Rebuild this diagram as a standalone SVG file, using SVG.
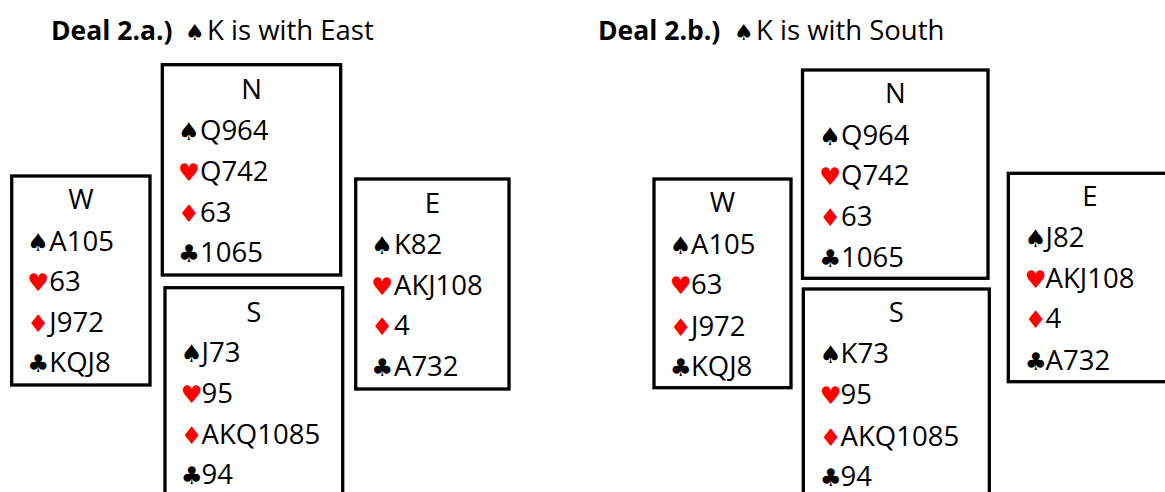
<svg xmlns="http://www.w3.org/2000/svg" width="1165" height="492" viewBox="0 0 1165 492">
<style>
.box{fill:none;stroke:#000;stroke-width:3.3}
text{font-family:"Open Sans","Liberation Sans",sans-serif;font-size:27.5px;fill:#000}
.lbl{text-anchor:middle}
.su{font-family:"DejaVu Sans",sans-serif;font-size:24.5px}
.r{fill:#ff0000}
.b{font-weight:bold;font-size:26.5px}
.ts{font-family:"DejaVu Sans",sans-serif;font-size:22px}
</style>
<g id="title-a"><text x="51" y="39.5"><tspan class="b">Deal 2.a.)</tspan><tspan class="ts" x="185">♠</tspan><tspan x="207">K is with East</tspan></text></g>
<g id="title-b"><text x="598" y="39.5"><tspan class="b">Deal 2.b.)</tspan><tspan class="ts" x="734">♠</tspan><tspan x="756">K is with South</tspan></text></g>

<g id="a-north">
<rect class="box" x="162.3" y="64.7" width="178.4" height="210.3"/>
<text class="lbl" x="251.5" y="99">N</text>
<text y="140"><tspan class="su" x="178">♠</tspan><tspan x="200">Q964</tspan></text>
<text y="180.7"><tspan class="su r" x="178">♥</tspan><tspan x="200">Q742</tspan></text>
<text y="221.5"><tspan class="su r" x="178">♦</tspan><tspan x="200">63</tspan></text>
<text y="262"><tspan class="su" x="178">♣</tspan><tspan x="200">1065</tspan></text>
</g>
<g id="a-west">
<rect class="box" x="11.7" y="176" width="138.3" height="209"/>
<text class="lbl" x="80.9" y="209.3">W</text>
<text y="250.7"><tspan class="su" x="27.3">♠</tspan><tspan x="49.3">A105</tspan></text>
<text y="291"><tspan class="su r" x="27.3">♥</tspan><tspan x="49.3">63</tspan></text>
<text y="331.7"><tspan class="su r" x="27.3">♦</tspan><tspan x="49.3">J972</tspan></text>
<text y="372.3"><tspan class="su" x="27.3">♣</tspan><tspan x="49.3">KQJ8</tspan></text>
</g>
<g id="a-east">
<rect class="box" x="355.7" y="179" width="153.3" height="210"/>
<text class="lbl" x="432.4" y="212.7">E</text>
<text y="254"><tspan class="su" x="371.3">♠</tspan><tspan x="394">K82</tspan></text>
<text y="295"><tspan class="su r" x="371.3">♥</tspan><tspan x="394">AKJ108</tspan></text>
<text y="335"><tspan class="su r" x="371.3">♦</tspan><tspan x="394">4</tspan></text>
<text y="376"><tspan class="su" x="371.3">♣</tspan><tspan x="394">A732</tspan></text>
</g>
<g id="a-south">
<rect class="box" x="165" y="287.7" width="177.7" height="220"/>
<text class="lbl" x="253.9" y="321.7">S</text>
<text y="362.3"><tspan class="su" x="180.7">♠</tspan><tspan x="201.6">J73</tspan></text>
<text y="403.3"><tspan class="su r" x="180.7">♥</tspan><tspan x="201.6">95</tspan></text>
<text y="444"><tspan class="su r" x="180.7">♦</tspan><tspan x="201.6">AKQ1085</tspan></text>
<text y="484"><tspan class="su" x="180.7">♣</tspan><tspan x="201.6">94</tspan></text>
</g>

<g id="b-north">
<rect class="box" x="802.5" y="70" width="185.5" height="208.3"/>
<text class="lbl" x="895.3" y="103.3">N</text>
<text y="145"><tspan class="su" x="819.3">♠</tspan><tspan x="841">Q964</tspan></text>
<text y="185"><tspan class="su r" x="819.3">♥</tspan><tspan x="841">Q742</tspan></text>
<text y="226"><tspan class="su r" x="819.3">♦</tspan><tspan x="841">63</tspan></text>
<text y="267.3"><tspan class="su" x="819.3">♣</tspan><tspan x="841">1065</tspan></text>
</g>
<g id="b-west">
<rect class="box" x="654" y="179" width="137" height="208.7"/>
<text class="lbl" x="722.5" y="212.3">W</text>
<text y="254"><tspan class="su" x="669.7">♠</tspan><tspan x="691">A105</tspan></text>
<text y="294.3"><tspan class="su r" x="669.7">♥</tspan><tspan x="691">63</tspan></text>
<text y="335.7"><tspan class="su r" x="669.7">♦</tspan><tspan x="691">J972</tspan></text>
<text y="375.7"><tspan class="su" x="669.7">♣</tspan><tspan x="691">KQJ8</tspan></text>
</g>
<g id="b-east">
<rect class="box" x="1008.3" y="173.3" width="163.4" height="208.4"/>
<text class="lbl" x="1090" y="206">E</text>
<text y="247.3"><tspan class="su" x="1024.7">♠</tspan><tspan x="1045.6">J82</tspan></text>
<text y="288.3"><tspan class="su r" x="1024.7">♥</tspan><tspan x="1045.6">AKJ108</tspan></text>
<text y="328.3"><tspan class="su r" x="1024.7">♦</tspan><tspan x="1045.6">4</tspan></text>
<text y="370"><tspan class="su" x="1024.7">♣</tspan><tspan x="1045.6">A732</tspan></text>
</g>
<g id="b-south">
<rect class="box" x="803.3" y="289" width="186" height="220"/>
<text class="lbl" x="896.3" y="322.3">S</text>
<text y="363.3"><tspan class="su" x="819.7">♠</tspan><tspan x="840.6">K73</tspan></text>
<text y="404.3"><tspan class="su r" x="819.7">♥</tspan><tspan x="840.6">95</tspan></text>
<text y="445.7"><tspan class="su r" x="819.7">♦</tspan><tspan x="840.6">AKQ1085</tspan></text>
<text y="485.7"><tspan class="su" x="819.7">♣</tspan><tspan x="840.6">94</tspan></text>
</g>
<g id="connectors"/>
</svg>
